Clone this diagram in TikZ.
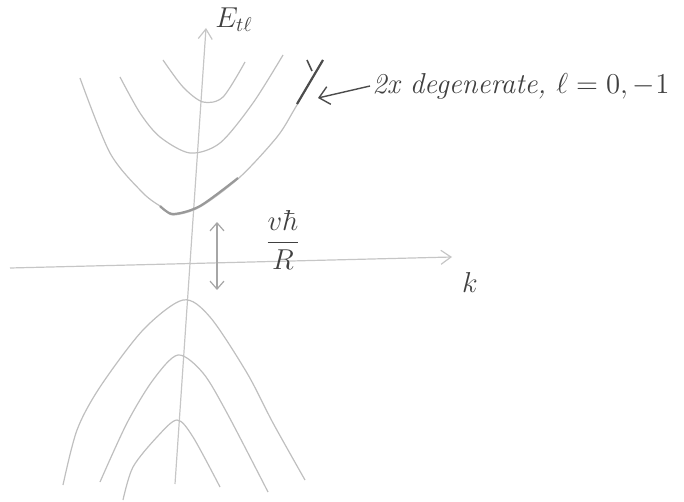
\documentclass[tikz,border=0pt]{standalone}
\usepackage{amsmath}
\usetikzlibrary{arrows.meta}

\begin{document}
\begin{tikzpicture}[
  x=0.5pt, y=-0.5pt,
  band/.style={draw=gray!50, line width=0.6pt},
  bandmark/.style={draw=gray!80, line width=1.1pt},
  axis/.style={draw=gray!45, line width=0.6pt, -{Straight Barb[length=5pt, width=7pt]}},
  pointer/.style={draw=black!70, line width=0.7pt, -{Straight Barb[length=5pt, width=9pt]}},
  label/.style={text=black!75, font=\Large, inner sep=1pt}
]
\useasboundingbox (0,0) rectangle (684,502);

% axes
\coordinate (kmin) at (10,268);
\coordinate (kmax) at (452,257);
\coordinate (emin) at (175,484);
\coordinate (emax) at (206,28);
\draw[axis] (kmin) -- (kmax);
\draw[axis] (emin) -- (emax);
\node[label] (elabel) at (234,20) {$E_{t\ell}$};
\node[label] (klabel) at (470,282) {$k$};

% upper bands
\draw[band] plot[smooth] coordinates {(163,60) (183,87) (203,102) (223,97) (245,62)};
\draw[band] plot[smooth] coordinates {(120,77) (140,113) (160,137) (190,153) (220,143) (253,103) (283,55)};
\draw[band] plot[smooth] coordinates {(80,78) (110,153) (143,193) (163,208) (173,215) (200,207) (240,177) (277,137) (294,110) (309,84) (323,60)};
\draw[bandmark] plot[smooth] coordinates {(160,206) (173,214) (200,206) (238,178)};
\draw[bandmark, draw=black!70] (297,104) -- (323,60);
\draw[bandmark, draw=black!70, line width=0.8pt] (312,71) -- (307,60);

% lower bands
\draw[band] plot[smooth] coordinates {(63,485) (77,430) (100,387) (143,330) (183,300) (210,317) (247,373) (273,423) (305,480)};
\draw[band] plot[smooth] coordinates {(100,482) (127,423) (153,380) (178,355) (203,373) (227,413) (268,492)};
\draw[band] plot[smooth] coordinates {(123,500) (133,467) (157,437) (177,420) (193,437) (220,487)};

% gap
\coordinate (gaptop) at (217,222);
\coordinate (gapbot) at (217,290);
\draw[draw=gray!70, line width=0.6pt, {Straight Barb[length=4pt, width=7pt]}-{Straight Barb[length=4pt, width=7pt]}] (gapbot) -- (gaptop);
\node[label] (gaplabel) at (283,240) {$\dfrac{v\hbar}{R}$};

% degeneracy note
\coordinate (outer) at (318,98);
\node[label, anchor=west] (deg) at (370,86) {\itshape 2x degenerate, $\ell = 0,-1$};
\draw[pointer] (deg.west) -- (outer);
\end{tikzpicture}
\end{document}
